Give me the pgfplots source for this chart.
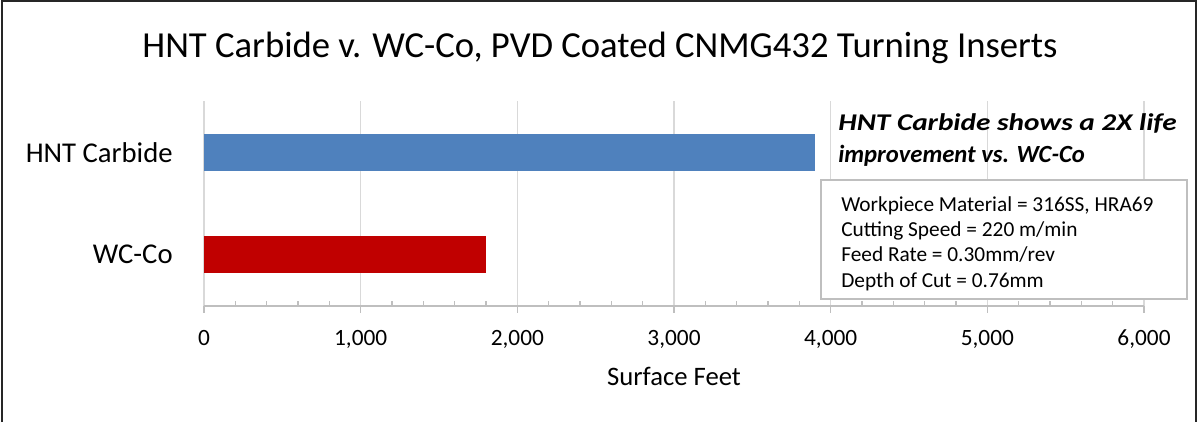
\documentclass[border=0pt]{standalone}
\usepackage{pgfplots}
\pgfplotsset{compat=1.18}
\usepackage{fontspec}
\setmainfont{Carlito}
\definecolor{hntblue}{HTML}{4F81BD}
\definecolor{wcred}{HTML}{C00000}
\definecolor{gridgray}{HTML}{D9D9D9}
\definecolor{axgray}{HTML}{BFBFBF}
\begin{document}
\begin{tikzpicture}
\path[use as bounding box, fill=white] (-153pt,-87pt) rectangle (745.5pt,229.5pt);
\begin{axis}[
  at={(0,0)}, anchor=south west,
  scale only axis, width=705pt, height=153.75pt,
  xbar, bar width=0.36, bar shift=0pt,
  xmin=0, xmax=6000, ymin=-0.5, ymax=1.5,
  ytick={0,1}, yticklabels={WC-Co, HNT Carbide},
  xtick={0,1000,...,6000},
  minor x tick num=4,
  xmajorgrids, major grid style={gridgray, line width=1pt},
  axis x line=bottom, axis y line=left,
  y axis line style={draw=none},
  x axis line style={-, draw=axgray, line width=1pt},
  tick align=inside,
  major tick length=-5.5pt, minor tick length=3.5pt,
  x tick style={axgray, line width=1pt},
  ytick style={draw=none},
  xticklabel style={font=\fontsize{17.5}{20}\selectfont, anchor=base, yshift=-29.25pt},
  /pgf/number format/assume math mode=true,
  /pgf/number format/1000 sep={,},
  scaled x ticks=false,
  yticklabel style={font=\fontsize{21.5}{25}\selectfont, anchor=east, xshift=-20pt},
  xlabel={Surface Feet},
  xlabel style={font=\fontsize{20}{24}\selectfont, at={(axis description cs:0.5,0)}, anchor=base, yshift=-59.25pt},
]
\addplot[fill=hntblue, draw=none] coordinates {(3900,1)};
\addplot[fill=wcred, draw=none] coordinates {(1800,0)};
\end{axis}
\node[anchor=base, font=\fontsize{27.5}{32}\selectfont] at (297pt,186pt) {HNT Carbide v. WC-Co, PVD Coated CNMG432 Turning Inserts};
\node[anchor=base west, inner sep=0pt, font=\fontsize{18}{21}\selectfont\bfseries\itshape] at (475.5pt,132pt) {\scalebox{1.22}[1]{HNT Carbide shows a 2X life}};
\node[anchor=base west, inner sep=0pt, font=\fontsize{18.5}{21}\selectfont\bfseries\itshape] at (475.5pt,108pt) {improvement vs. WC-Co};
\draw[axgray, line width=1.1pt, fill=white] (462.75pt,5.25pt) rectangle (737.25pt,94.5pt);
\begin{scope}[every node/.style={anchor=base west, inner sep=0pt, font=\fontsize{16}{19}\selectfont}]
\node at (477.75pt,71.25pt) {Workpiece Material = 316SS, HRA69};
\node at (477.75pt,52.5pt) {Cutting Speed = 220 m/min};
\node at (477.75pt,33.75pt) {Feed Rate = 0.30mm/rev};
\node at (477.75pt,14.25pt) {Depth of Cut = 0.76mm};
\end{scope}
\draw[black!85, line width=1.5pt] (-151.5pt,-87pt) -- (-151.5pt,228.75pt) -- (744pt,228.75pt) -- (744pt,-87pt);
\end{tikzpicture}
\end{document}
